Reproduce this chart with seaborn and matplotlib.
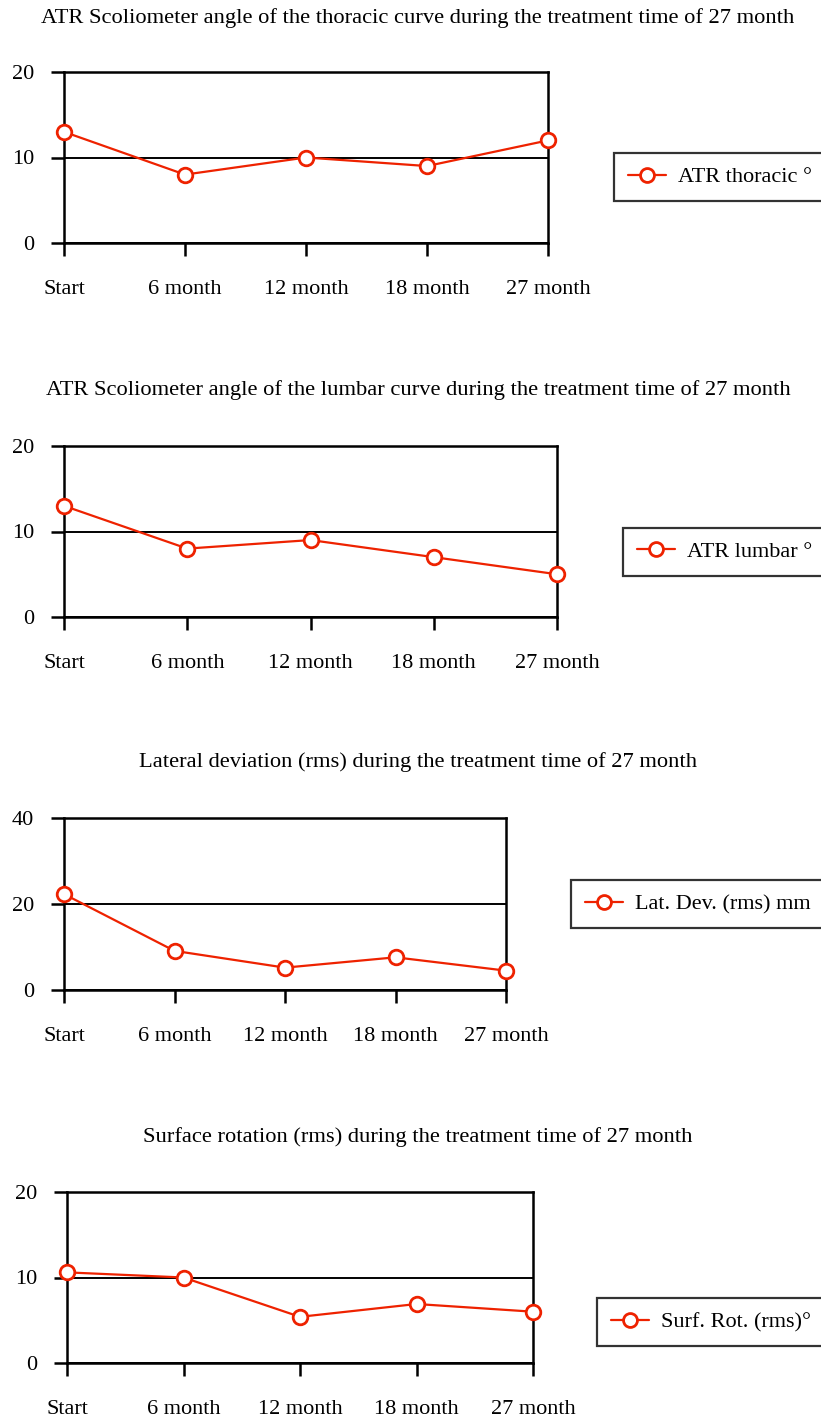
import pandas as pd
import matplotlib.pyplot as plt
import seaborn as sns

# Time points (x categories)
time_labels = ['Start', '6 month', '12 month', '18 month', '27 month']

# Series values
atr_thoracic = [13, 8, 10, 9, 12]
atr_lumbar = [13, 8, 9, 7, 5]
lat_dev = [22.3, 9.1, 5.2, 7.6, 4.5]
surf_rot = [10.6, 10.0, 5.4, 6.9, 6.0]

titles = [
    'ATR Scoliometer angle of the thoracic curve during the treatment time of 27 month',
    'ATR Scoliometer angle of the lumbar curve during the treatment time of 27 month',
    'Lateral deviation (rms) during the treatment time of 27 month',
    'Surface rotation (rms) during the treatment time of 27 month',
]
legend_labels = ['ATR thoracic °', 'ATR lumbar °', 'Lat. Dev. (rms) mm', 'Surf. Rot. (rms)°']
y_maxes = [20, 20, 40, 20]
y_ticks = [[0, 10, 20], [0, 10, 20], [0, 20, 40], [0, 10, 20]]

series = [atr_thoracic, atr_lumbar, lat_dev, surf_rot]

sns.set_theme(style="white")
plt.rcParams['font.family'] = ['Liberation Serif', 'DejaVu Serif']
plt.rcParams['text.color'] = 'black'
plt.rcParams['xtick.color'] = 'black'
plt.rcParams['ytick.color'] = 'black'

W, H = 821, 1420
fig = plt.figure(figsize=(W / 100, H / 100), dpi=100)

# panel geometry in pixels: left, right, top, bottom; title y; legend left, legend centre y
panels = [
    (64, 548, 72, 243, 18, 614, 177),
    (64, 557, 446, 617, 390, 623, 552),
    (64, 506, 818, 990, 762, 571, 904),
    (67, 533, 1192, 1363, 1137, 597, 1322),
]

red = '#EE2200'
fs = 16

for i, (l, r, t, b, ty, lx, ly) in enumerate(panels):
    ax = fig.add_axes([l / W, 1 - b / H, (r - l) / W, (b - t) / H])
    df = pd.DataFrame({'time': time_labels, 'value': series[i]})
    sns.lineplot(data=df, x='time', y='value', ax=ax, sort=False,
                 color=red, linewidth=1.6, marker='o', markersize=10.5,
                 markerfacecolor='white', markeredgecolor=red,
                 markeredgewidth=2.0, label=legend_labels[i], zorder=5,
                 clip_on=False)
    ax.set_xlim(0, len(time_labels) - 1)
    ax.set_ylim(0, y_maxes[i])
    ax.set_yticks(y_ticks[i])
    ax.set_xlabel('')
    ax.set_ylabel('')
    ax.yaxis.grid(True, color='black', linewidth=1.4)
    ax.xaxis.grid(False)
    ax.set_axisbelow(True)
    for sp in ax.spines.values():
        sp.set_color('black')
        sp.set_linewidth(1.8)
    ax.tick_params(axis='x', bottom=True, direction='out', length=9.4,
                   width=1.8, color='black', labelsize=fs, pad=17.5)
    ax.tick_params(axis='y', left=True, direction='out', length=9.4,
                   width=1.8, color='black', labelsize=fs, pad=12)

    fig.text(418 / W, 1 - ty / H, titles[i], ha='center', va='center',
             fontsize=16.2)

    ax.get_legend().remove()
    leg = fig.legend(*ax.get_legend_handles_labels(), loc='center left',
                     bbox_to_anchor=(lx / W, 1 - ly / H), fontsize=fs,
                     frameon=True, fancybox=False, handlelength=1.7,
                     handletextpad=0.55, borderpad=0.62, borderaxespad=0)
    leg.get_frame().set_edgecolor('black')
    leg.get_frame().set_linewidth(1.6)
    for h in leg.legend_handles:
        h.set_markersize(10)

fig.savefig('out.png', dpi=100)
